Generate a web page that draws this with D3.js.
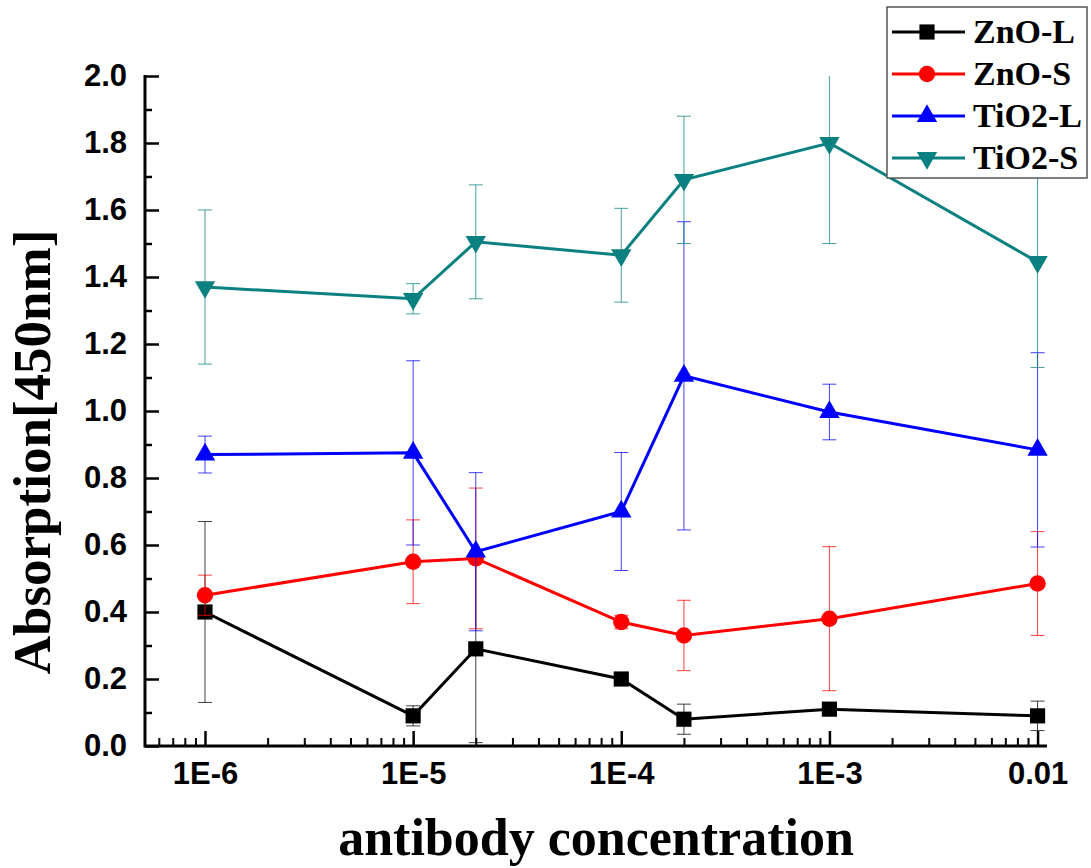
<!DOCTYPE html>
<html lang="en">
<head>
    <meta charset="UTF-8">
    <script src="https://cdn.jsdelivr.net/npm/d3@7"></script>
    <title>antibody concentration</title>
    <style>
        body { margin: 0; background: #fff; }
        .tick text { font-family: "Liberation Sans", Arial, sans-serif; font-weight: bold; font-size: 31px; fill: #000; }
        .serif { font-family: "Liberation Serif", "Times New Roman", serif; font-weight: bold; fill: #000; }
    </style>
</head>
<body>
    <svg id="chart" width="1091" height="868"></svg>

    <script>
        // data
        const concentrations = [1e-6, 1e-5, 2e-5, 1e-4, 2e-4, 1e-3, 1e-2];
        const seriesNames = ['ZnO-L', 'ZnO-S', 'TiO2-L', 'TiO2-S'];
        const znoL     = [0.40, 0.09, 0.29, 0.20, 0.08, 0.11, 0.09];
        const znoLErr  = [0.27, 0.03, 0.28, 0.01, 0.045, 0.01, 0.044];
        const znoS     = [0.45, 0.55, 0.56, 0.37, 0.33, 0.38, 0.485];
        const znoSErr  = [0.06, 0.125, 0.21, 0.02, 0.105, 0.215, 0.155];
        const tio2L    = [0.87, 0.875, 0.58, 0.70, 1.105, 0.997, 0.884];
        const tio2LErr = [0.055, 0.275, 0.236, 0.176, 0.46, 0.083, 0.29];
        const tio2S    = [1.37, 1.335, 1.505, 1.465, 1.69, 1.80, 1.445];
        const tio2SErr = [0.23, 0.045, 0.17, 0.14, 0.19, 0.30, 0.315];
        const xTickValues = [1e-6, 1e-5, 1e-4, 1e-3, 1e-2];
        const xTickLabels = ['1E-6', '1E-5', '1E-4', '1E-3', '0.01'];
        const yTickValues = [0, 0.2, 0.4, 0.6, 0.8, 1.0, 1.2, 1.4, 1.6, 1.8, 2.0];

        const colors = ['#000000', '#ff0000', '#0000ff', '#0a8080'];
        const symbols = [d3.symbolSquare, d3.symbolCircle, d3.symbolTriangle, d3.symbolTriangle];
        const symSizes = [230, 210, 180, 180];
        const rotations = [0, 0, 0, 180];

        const series = [
            {name: seriesNames[0], values: znoL, errs: znoLErr},
            {name: seriesNames[1], values: znoS, errs: znoSErr},
            {name: seriesNames[2], values: tio2L, errs: tio2LErr},
            {name: seriesNames[3], values: tio2S, errs: tio2SErr}
        ];

        const plotL = 145, plotR = 1047, plotT = 76, plotB = 746;

        const x = d3.scaleLog().domain([5.15e-7, 0.0111]).range([plotL, plotR]);
        const y = d3.scaleLinear().domain([0, 2.0]).range([plotB, plotT]);

        const svg = d3.select('#chart');

        svg.append('clipPath').attr('id', 'plotclip')
            .append('rect')
            .attr('x', plotL).attr('y', plotT)
            .attr('width', plotR - plotL).attr('height', plotB - plotT);

        // minor ticks on the log axis: 2..9 of each decade
        const xMinor = [];
        for (let k = -7; k <= -2; k++) {
            for (let m = 2; m <= 9; m++) {
                const v = m * Math.pow(10, k);
                if (v > x.domain()[0] && v < x.domain()[1]) xMinor.push(v);
            }
        }
        const yMinor = d3.range(1, 20, 2).map(d => d / 10);

        // x axis
        svg.append('g')
            .attr('transform', 'translate(0,' + plotB + ')')
            .call(d3.axisBottom(x).tickValues(xMinor).tickSize(-8).tickFormat(''))
            .call(g => g.select('.domain').remove())
            .call(g => g.selectAll('line').attr('stroke-width', 2));
        svg.append('g')
            .attr('transform', 'translate(0,' + plotB + ')')
            .call(d3.axisBottom(x).tickValues(xTickValues).tickSize(-15).tickPadding(16)
                .tickFormat((d, i) => xTickLabels[i]))
            .call(g => g.select('.domain').attr('stroke-width', 3).attr('d', 'M' + plotL + ',0H' + plotR))
            .call(g => g.selectAll('line').attr('stroke-width', 2.5));

        // y axis
        svg.append('g')
            .attr('transform', 'translate(' + plotL + ',0)')
            .call(d3.axisLeft(y).tickValues(yMinor).tickSize(-7).tickFormat(''))
            .call(g => g.select('.domain').remove())
            .call(g => g.selectAll('line').attr('stroke-width', 2.5));
        svg.append('g')
            .attr('transform', 'translate(' + plotL + ',0)')
            .call(d3.axisLeft(y).tickValues(yTickValues).tickSize(-14).tickPadding(18)
                .tickFormat(d3.format('.1f')))
            .call(g => g.select('.domain').attr('stroke-width', 3).attr('d', 'M0,' + (plotT - 1) + 'V' + (plotB + 1.5)))
            .call(g => g.selectAll('line').attr('stroke-width', 2.5));

        // series: error bars, line, markers
        const line = d3.line().x((d, i) => x(concentrations[i])).y(d => y(d));
        const plot = svg.append('g');

        series.forEach((s, si) => {
            const g = plot.append('g');
            const eb = g.append('g').attr('clip-path', 'url(#plotclip)')
                .attr('stroke', colors[si]).attr('stroke-width', 1).attr('stroke-opacity', 0.75);
            s.values.forEach((v, i) => {
                const cx = x(concentrations[i]);
                const y0 = y(v - s.errs[i]), y1 = y(v + s.errs[i]);
                eb.append('line').attr('x1', cx).attr('x2', cx).attr('y1', y0).attr('y2', y1);
                eb.append('line').attr('x1', cx - 7).attr('x2', cx + 7).attr('y1', y0).attr('y2', y0);
                eb.append('line').attr('x1', cx - 7).attr('x2', cx + 7).attr('y1', y1).attr('y2', y1);
            });
            g.append('path')
                .attr('d', line(s.values))
                .attr('fill', 'none')
                .attr('stroke', colors[si])
                .attr('stroke-width', 3);
            g.selectAll('path.mark')
                .data(s.values)
                .enter().append('path')
                .attr('class', 'mark')
                .attr('d', d3.symbol().type(symbols[si]).size(symSizes[si]))
                .attr('transform', (d, i) => 'translate(' + x(concentrations[i]) + ',' + y(d) + ')rotate(' + rotations[si] + ')')
                .attr('fill', colors[si]);
        });

        // legend
        const legend = svg.append('g');
        legend.append('rect')
            .attr('x', 887).attr('y', 7).attr('width', 200).attr('height', 171)
            .attr('fill', '#fff').attr('stroke', '#555').attr('stroke-width', 1.5);
        seriesNames.forEach((name, i) => {
            const ly = 32 + i * 42;
            legend.append('line')
                .attr('x1', 892).attr('x2', 965).attr('y1', ly).attr('y2', ly)
                .attr('stroke', colors[i]).attr('stroke-width', 3);
            legend.append('path')
                .attr('d', d3.symbol().type(symbols[i]).size(symSizes[i]))
                .attr('transform', 'translate(927,' + ly + ')rotate(' + rotations[i] + ')')
                .attr('fill', colors[i]);
            legend.append('text')
                .attr('class', 'serif')
                .attr('x', 973).attr('y', ly + 11)
                .attr('font-size', 34)
                .text(name);
        });

        // axis titles
        svg.append('text')
            .attr('class', 'serif')
            .attr('text-anchor', 'middle')
            .attr('font-size', 53)
            .attr('transform', 'translate(50,452)rotate(-90)')
            .text('Absorption[450nm]');
        svg.append('text')
            .attr('class', 'serif')
            .attr('text-anchor', 'middle')
            .attr('font-size', 52)
            .attr('x', 596).attr('y', 855)
            .text('antibody concentration');
    </script>
</body>
</html>
